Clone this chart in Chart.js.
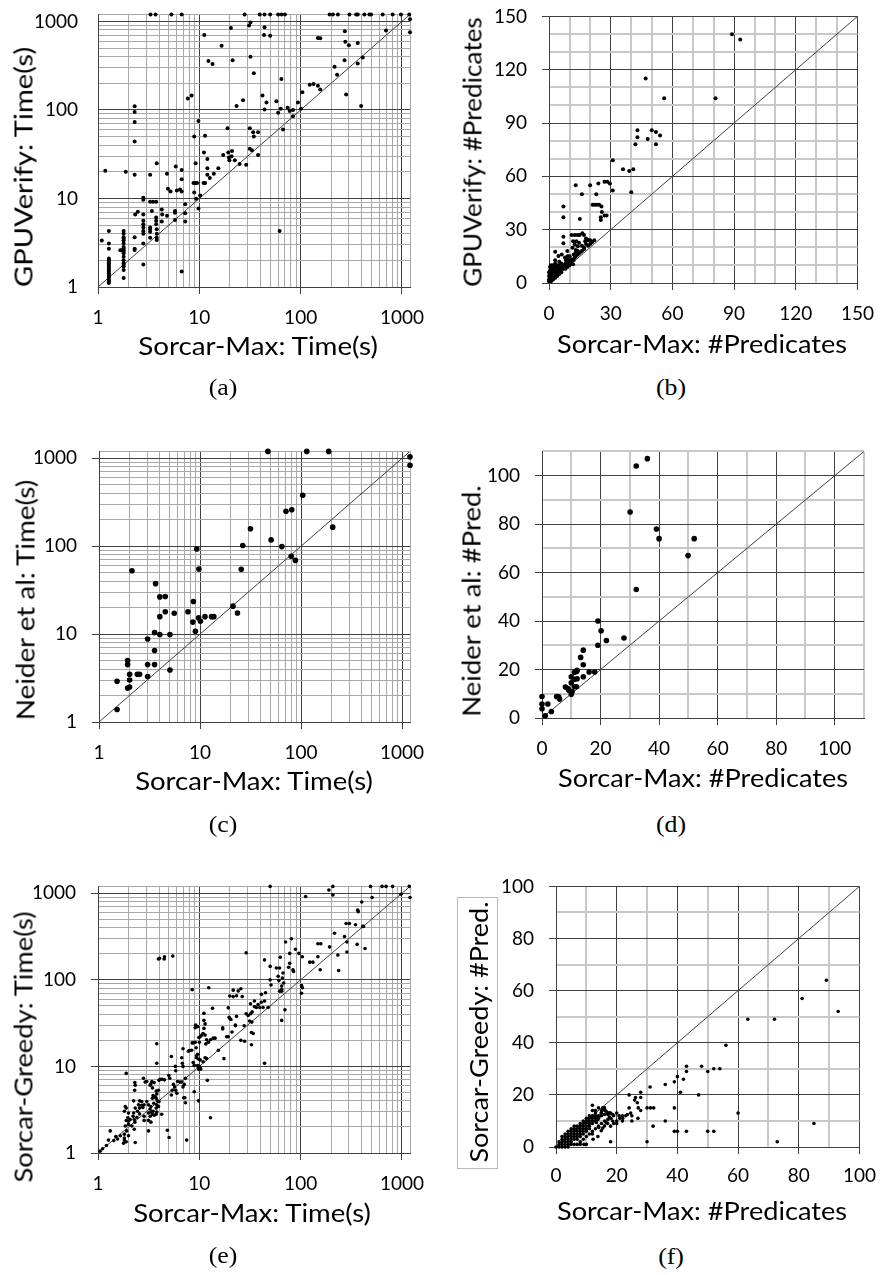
<!DOCTYPE html>
<html lang="en">
<head>
<meta charset="UTF-8">
<title>Sorcar-Max comparison scatter plots</title>
<script src="https://cdn.jsdelivr.net/npm/chart.js"></script>
<style>
  html, body { margin: 0; padding: 0; background: #fff; }
  #figure { position: relative; width: 886px; height: 1275px; overflow: hidden; }
  .plotbox { position: absolute; }
  .title { position: absolute; white-space: nowrap; font-family: Lato, "Open Sans", sans-serif; font-size: 25px; line-height: 1; color: #000; }
  .cap { position: absolute; white-space: nowrap; font-family: "Liberation Serif", serif; font-size: 23px; line-height: 1; color: #000; }
  .titlebox { position: absolute; border: 1px solid #b8b8b8; }
</style>
</head>
<body>
<div id="figure"></div>

<script>
// ---- data ----
const timeTickLabels = [1, 10, 100, 1000];
const timeMin = 1, timeMax = 1200;
const predTicksB = [0, 30, 60, 90, 120, 150];
const predTicksD = [0, 20, 40, 60, 80, 100];
const predTicksF = [0, 20, 40, 60, 80, 100];
const predMaxB = 150, predMaxD = 110, predMaxF = 100;

// (a) GPUVerify time vs Sorcar-Max time
const gpuTime = [
  [3.3,1200],[3.7,1200],[5.3,1200],[6.7,1200],[28,1200],[39.5,1200],[44,1200],[50,1200],[60,1200],[65,1200],[70,1200],
  [193,1200],[208,1200],[233,1200],[303,1200],[353,1200],[366,1200],[426,1200],[477,1200],[496,1200],[645,1200],[809,1200],[977,1200],[1180,1200],
  [1200,1060],[1200,755],[31,900],[32,975],[20.5,840],[44,860],[11.2,700],[43.5,700],[50,690],[16.6,530],[12.3,356],[13.5,330],
  [21.3,365],[32,398],[34.5,260],[64.5,223],[8.4,146],[7.7,135],[23.3,111],[27,129],[42,146],[46,121],[44,101],[57.6,125],[60,93],
  [63.6,103],[74.5,106],[78,97],[84,100],[84,85],[94,121],[101,103],[104,158],[123,193],[134,196],[148,188],[156,170],[148,650],
  [156,645],[216,308],[229,249],[271,365],[281,149],[273,774],[276,590],[299,537],[366,570],[366,335],[395,111],[410,391],[696,787],
  [67,60],[19,62],[31.5,62],[34,56],[34.5,50],[38,56],[31.5,36.5],[33,35],[38,31],[29,24],[25,24.5],[20.8,30],[22.4,27],[19.6,29],
  [19.8,27],[17.2,31],[19.3,33],[21,34.4],[15.4,22],[13.9,19],[12.7,17],[12,18.5],[11.1,33],[11.4,51],[12,28],[12,22],[11,15],[11.4,15],
  [9.8,75],[8.9,50],[9.2,25],[8.75,15],[9.2,15],[9.5,15],[8.9,11.7],[9.3,9.9],[10.2,10.8],[9.8,7.7],[6.7,21],[6.7,16.5],[5.85,23],
  [6.45,12.6],[6.7,12],[6,12.3],[5.2,12],[4.8,19],[4.9,12.9],[3.8,25],[3.27,18.5],[3.27,9.2],[3.5,9.2],[3.75,9.2],[3.4,7.2],[4.26,7.5],
  [4.3,6.6],[4.8,6.4],[5.75,7.2],[5.75,6.9],[7.25,8.6],[7.25,6.8],[7.25,5.5],[5.75,5.7],[4.26,5.5],[3.75,6.1],[3.75,5.6],[3.75,5.1],
  [3.8,4.5],[3.8,4.0],[3.8,3.6],[3.8,3.4],[3.27,4.5],[3.27,4.7],[3.27,4.2],[3.27,3.6],[2.8,10.2],[2.8,9.7],[2.8,6.6],[2.8,5.6],[2.8,5.1],
  [2.8,4.7],[2.8,4.3],[2.8,4.0],[2.8,3.1],[2.8,1.8],[2.33,6.6],[2.47,7.1],[2.3,18.5],[2.3,44],[2.3,73],[2.3,95],[2.3,110],[2.3,3.65],
  [2.3,2.7],[2.3,2.62],[1.88,20],[1.18,20.6],[1.09,3.36],[6.7,1.5],[62,4.3],
  [1.28,4.3],[1.28,3.1],[1.28,2.7],[1.28,2.1],[1.28,2.0],[1.28,1.93],[1.28,1.85],[1.28,1.77],[1.28,1.7],[1.28,1.63],[1.28,1.56],
  [1.28,1.5],[1.28,1.43],[1.28,1.37],[1.28,1.31],[1.28,1.26],[1.28,1.21],[1.28,1.16],[1.28,1.11],
  [1.79,4.3],[1.79,4.0],[1.79,3.65],[1.79,3.5],[1.79,3.36],[1.79,3.1],[1.79,2.83],[1.79,2.7],[1.79,2.6],[1.79,2.5],[1.79,2.4],
  [1.79,2.2],[1.79,2.0],[1.79,1.85],[1.79,1.77],[1.79,1.7],[1.79,1.56],[1.79,1.26],[1.66,2.6],[1.72,2.6]
];

// (b) GPUVerify predicates vs Sorcar-Max predicates
const gpuPred = [
  [89,140],[93,137],[47,115],[56,104],[81,104],[43,86],[43,82],[42,78],[48,81],[50,86],[52,85],[54,83],[52,78],[31,69],[36,64],
  [39,63],[41,64],[40,51],[31,52],[29.6,56],[27,57],[28.4,57],[24,56],[23,50],[20,55],[16,50],[13,55],[15,36],[7,43],[7,37],
  [21.2,44],[22.2,44],[23.3,44],[24.4,44],[25.5,43],[25.7,40],[25.2,37],[25.2,35.4],[27,38],[28,38],[11,27],[12.5,27],[13.8,27],
  [14.9,27],[16.2,28],[17,27],[18,25],[18.9,24.4],[17.6,23.5],[11.7,23.5],[13.3,23.5],[14.6,22.6],[12.5,21.6],[7,26],[7,22.4],
  [8.9,18],[11.4,19.8],[13,18.5],[14,20.7],[3,12.8],[4.6,15.2],[6.2,16],[7.8,14.3],[9.3,13.4],[10.9,13.4],[12.5,14.3],[8.2,12.8],
  [10.1,11.5],[11.7,10.6],[3,17.6],
  [0.5,1],[0.5,3],[0.5,5],[0.5,7],[0.5,9],[1,2],[1,4],[1,6],[1,8],[1,10],[1.5,3],[1.5,5],[2,3],[2,4],[2,6],[2,8],[2.5,4],[2.5,7],
  [3,4],[3,5],[3,9],[3,11],[3.5,5],[3.5,7],[4,5],[4,6],[4,8],[4.5,6],[4.5,10],[5,7],[5,8],[5,12],[5.5,7],[6,8],[6,9],[6.5,9],[7,8],
  [7,10],[7.5,9],[8,10],[8,11],[9,10],[9,12],[10,12],[11,13],[12,13],[13,15],[14,16],[15,17],[16,18],[17,19],[12,16],[14,18],[10,15],
  [16,21],[18,22],[20,24],[19,21],[21,23],[22,24],[17,20],[0,1],[0,2],[0,4],[0,6],[1,1],[2,2],[3,3],[4,4],[6,6],[5,5],[8,8],[9,9],
  [10,10],[11,11],[6,11],[4,9],[2,10],[1,7],[8,14],[9,15],[13,17],[19,24],[20,22]
];

// (c) Neider et al. time vs Sorcar-Max time
const neiderTime = [
  [47,1200],[114,1200],[188,1200],[1200,1040],[1200,836],[104,380],[81,260],[71,250],[206,165],[31.6,158],[26.5,102],[50.6,118],
  [64.6,99],[80,77],[88,69],[25.6,54.6],[9.3,93],[9.75,55],[2.12,52.7],[3.63,37.5],[4.0,26.5],[4.53,26.8],[8.6,23.5],[21.2,20.8],
  [23.5,17.4],[4.53,18],[5.56,17.3],[7.6,18],[4.0,15.8],[8.5,13.7],[9.7,15.3],[10.1,14],[11.2,15.8],[13,15.8],[13.7,15.8],[9,10.8],
  [3.55,10.4],[4.0,9.9],[5.04,9.9],[3.03,8.8],[3.55,6.5],[3.03,4.5],[3.55,4.5],[3.03,3.3],[5.04,3.9],[1.92,5.0],[1.92,4.5],[2.01,3.5],
  [2.4,3.5],[2.52,3.5],[2.01,3.0],[1.51,2.9],[1.92,2.43],[2.01,2.5],[1.51,1.39]
];

// (d) Neider et al. predicates vs Sorcar-Max predicates
const neiderPred = [
  [36,107],[32.2,104],[30.1,85],[39.1,78],[40,74],[52,74],[49.9,67],[32.2,53],[19.1,40],[20.2,36],[22,32],[28,33],[19.1,30],
  [14.1,28],[13.2,25],[14.1,22],[12,19.7],[11.8,19.2],[11.1,18.9],[16.1,19],[18,19],[14.1,17],[10,17],[11.1,16],[12,16.2],[10,14.5],
  [8,12.8],[8.9,12.1],[9.2,11.4],[10.3,10.9],[10,9.8],[11.1,12.9],[11.8,12.9],[5,8.9],[5.7,8.7],[6,7.8],[0,8.9],[0,5.8],[0,3.8],
  [2,5.8],[1.1,0.9],[3.2,2.7]
];

// (e) Sorcar-Greedy time vs Sorcar-Max time
const greedyTime = [
  [50,1200],[208,1200],[489,1200],[636,1200],[696,1200],[809,1200],[1180,1200],[1200,894],[977,975],[190,1090],[208,957],[112,917],
  [507,894],[401,792],[366,638],[370,611],[281,447],[303,447],[348,432],[410,414],[418,414],[216,345],[271,316],[286,273],[193,240],
  [361,257],[432,230],[233,193],[286,210],[237,128],[148,261],[158,261],[148,185],[123,160],[132,160],[156,131],[96,202],[104,185],
  [81,298],[71,273],[89,226],[78,202],[63,182],[78,155],[84,131],[85,125],[76,140],[50,143],[44,170],[29,205],[57.6,137],[62,137],
  [67,120],[66,105],[60,110],[61,98],[68,92],[65,85],[65,78],[62,74],[65,74],[50,100],[51,87],[70,45],[65,34],[102,86],[104,81],
  [102,70],[44,57],[41,68],[45,71],[35,57],[32,53],[35,49],[47.7,48],[42.6,48],[39.5,48],[36.6,48],[38,52],[41,55],[32,40.6],
  [29,40.6],[30.3,38.7],[33.2,42.6],[33,32.5],[31.3,33.5],[27.7,29.5],[32.7,24.6],[34,24],[32.7,17.8],[25.7,20],[28,19.5],[44,10.9],
  [25.7,79],[24.2,74.5],[21.6,76],[23.3,65.5],[21.6,64],[26.5,64],[20,65],[19.3,47.5],[19.7,37],[20,35.7],[20.5,34.8],[23.3,37.8],
  [22.7,30],[21,25],[22.7,29.5],[18.6,22],[19.3,22],[17,28],[17,27],[17.5,12.3],[15.4,15.4],[13.5,47],[12.4,81],[8.5,77],[14.3,21.2],
  [13.7,21.2],[12.9,20.3],[11.8,20.3],[12.3,19],[11.6,18.2],[11.1,41],[11.1,34],[11.4,31],[11.1,27.5],[10.2,22],[10.9,24],[11.4,23],
  [10.6,23],[9.6,28.8],[9.2,30],[9.1,28],[10,19],[9.9,21.6],[9.3,16.4],[9.1,19],[8.7,18.7],[8.5,18.7],[9.4,13.2],[9.4,12.6],[9.6,13.8],
  [9.9,12.1],[10.2,11.9],[9.6,10.2],[9.8,9.7],[9.9,9.3],[10.2,9.5],[10.3,9.3],[10,10],[8.9,10.3],[8.7,11.1],[10.9,11.3],[11.4,12.6],
  [11.8,12.3],[12,6.9],[12.9,2.55],[9.8,4.0],[8.9,5.1],[8,15.3],[8.4,15.4],[7.8,15],[6.9,16],[6.7,12.6],[6.8,10.9],[6.9,10],[5.8,10],
  [5.85,8.9],[6.45,6.6],[6.7,6.6],[6.1,6.7],[5.7,5.8],[5.4,5.3],[7.3,7.3],[7.2,4.35],[7.3,3.8],[7.5,1.41],[5.3,13],[5.1,7.3],[5,7.85],
  [4,6.9],[4.3,7.1],[4.1,7.1],[3.8,18.3],[3.8,10.9],[3.58,6.5],[3.45,5.65],[3.27,6.05],[3.03,6.7],[2.92,6.6],[2.81,7.3],[3.4,6.7],
  [3.33,6.3],[3.75,5.2],[3.8,4.8],[3.66,4.47],[3.95,5.3],[3.75,4.3],[3.85,4.0],[3.5,4.6],[3.45,4.3],[3.55,3.76],[3.8,3.6],[3.75,3.3],
  [3.95,3.45],[4.0,3.93],[3.33,3.45],[3.15,3.6],[3.03,3.93],[2.85,3.6],[2.77,3.35],[2.7,3.93],[2.7,3.55],[3.27,3.22],[3.33,2.98],
  [3.15,2.9],[3.27,2.66],[3.45,2.78],[3.6,2.73],[3.5,3.03],[3.8,2.98],[3.75,2.8],[4.25,2.8],[3.15,2.38],[3.33,2.27],[3.15,1.8],
  [2.85,2.38],[2.85,2.66],[2.57,4.0],[2.51,3.6],[2.57,3.3],[2.45,3.03],[2.57,2.83],[2.42,2.59],[2.31,6.5],[2.33,6.05],[2.3,5.3],
  [2.25,4.0],[2.33,3.3],[2.25,2.9],[2.22,2.66],[2.28,2.44],[2.31,2.27],[2.16,2.05],[2.28,1.88],[2.33,1.32],[1.9,8.3],[1.86,3.45],
  [1.9,3.3],[1.82,3.03],[2.0,2.9],[1.97,2.55],[2.08,2.44],[2.0,2.33],[1.9,2.37],[2.0,2.14],[1.86,2.05],[1.92,1.8],[1.82,1.65],
  [2.0,1.58],[1.82,1.49],[1.79,1.3],[1.9,1.35],[1.82,1.41],[1.32,1.8],[1.5,1.55],[1.43,1.39],[1.56,1.45],[1.21,1.22],[1.11,1.12],
  [1.05,1.05],[1.66,1.58],[1.27,1.41],[4.53,185],[4.04,177],[3.95,174],[4.5,174],[5.47,188],[4.53,7],[4.84,1.83],[5.03,1.51],
  [5.85,5.3],[5.55,6.2],[6.0,4.9],[6.9,5.8],[7.1,6.2],[7.0,4.35],[5.3,4.67]
];

// (f) Sorcar-Greedy predicates vs Sorcar-Max predicates
const greedyPred = [
  [89.1,64],[81.1,57],[93,52],[63.2,49],[72,49],[56,39],[43,31],[43,29],[48,31],[50,29],[52,30],[54,30],[40,27],[42,26],[39,25],
  [36,24],[41,21],[47,20],[31,23],[27.9,21],[27.9,19],[26.2,19],[25.9,18],[26.8,17],[27.9,14],[27.1,15],[24.1,20],[24.1,15],[24.6,13],
  [27,11],[30,15],[31.1,15],[32.2,15],[39,15],[60,13],[36,10],[32,8],[39,6],[40,6],[43,6],[50,6],[52,6],[85,9],[72.9,2],[30,2],[18,2],
  [20.8,12],[21.9,12],[23,12],[23.5,12.5],[25,12],[25,10],[21.9,10],[20,9],[18.7,10],[18.1,11],[18.7,12.5],[17.6,11.5],[17.1,10.6],
  [16.5,9.4],[16,8.1],[15.4,7.25],[14.9,6.25],[12,16],[15.4,15],[16.5,13.75],[17.6,13.1],[17.1,12.5],[16,12.5],[14.9,13.1],[14.4,11.9],
  [13.8,10.6],[13.3,9.4],[14.1,7.5],[13.8,4],[12,5],[12.2,3],[10,1],[9.2,1],
  [0,0],[1,0],[1,1],[1,2],[2,0],[2,1],[2,2],[2,3],[3,1],[3,2],[3,3],[3,4],[4,1],[4,2],[4,3],[4,4],[4,5],[5,2],[5,3],[5,4],[5,5],[5,6],
  [6,3],[6,4],[6,5],[6,6],[6,7],[7,3],[7,4],[7,5],[7,6],[7,7],[8,4],[8,5],[8,6],[8,7],[8,8],[9,5],[9,6],[9,7],[9,8],[9,9],[10,6],[10,7],
  [10,8],[10,9],[10,10],[11,7],[11,8],[11,9],[11,10],[11,11],[12,9],[12,10],[12,11],[12,12],[13,10],[13,11],[13,12],[13,13],[14,12],
  [14,11],[15,12],[15,13],[15,14],[16,14],[16,15],[17,13],[18,13],[19,12],[20,13],[6,1],[7,1],[8,1],[5,1],[3,0],[4,0],[2,4],[3,5],
  [4,6],[5,7],[6,8],[7,8],[8,9],[9,10],[10,11],[11,12],[12,14],[13,14],[14,15],[8,2],[9,3],[10,4],[11,5],[12,6],[13,7],[14,8],[15,9],
  [16,10],[17,9],[18,8],[19,9],[20,10],[21,11],[22,11]
];

// ---- layout (page pixels) ----
const MAJOR = '#404040';
const panels = [
  { key: 'a', pts: gpuTime, log: true, plot: [98, 10, 410, 287], r: 2, yTitle: 'GPUVerify: Time(s)', yt: [23, 167, 240],
    xTitle: 'Sorcar-Max: Time(s)', xt: [258, 345, 240], cap: [223, 387], yPad: 13, xPad: 12, noYTicks: true },
  { key: 'b', pts: gpuPred, log: false, max: predMaxB, labels: predTicksB, plot: [549, 10, 864, 283], r: 2,
    yTitle: 'GPUVerify: #Predicates', yt: [472, 152, 270], xTitle: 'Sorcar-Max: #Predicates', xt: [702, 343, 290], cap: [671, 387], yPad: 15, xPad: 12 },
  { key: 'c', pts: neiderTime, log: true, plot: [99, 445, 410, 722], r: 2.8, yTitle: 'Neider et al: Time(s)', yt: [25, 600, 240],
    xTitle: 'Sorcar-Max: Time(s)', xt: [254, 780, 238], cap: [223, 824], yPad: 15, xPad: 12 },
  { key: 'd', pts: neiderPred, log: false, max: predMaxD, labels: predTicksD, plot: [542, 445, 864, 718], r: 2.8,
    yTitle: 'Neider et al: #Pred.', yt: [471, 601, 232], xTitle: 'Sorcar-Max: #Predicates', xt: [703, 777, 290], cap: [671, 824], yPad: 15, xPad: 12 },
  { key: 'e', pts: greedyTime, log: true, plot: [98, 880, 410, 1153], r: 1.8, yTitle: 'Sorcar-Greedy: Time(s)', yt: [23, 1047, 271],
    xTitle: 'Sorcar-Max: Time(s)', xt: [252, 1212, 238], cap: [223, 1255], yPad: 15, xPad: 12 },
  { key: 'f', pts: greedyPred, log: false, max: predMaxF, labels: predTicksF, plot: [556, 880, 864, 1147], r: 1.8,
    yTitle: 'Sorcar-Greedy: #Pred.', yt: [478, 1032, 261], xTitle: 'Sorcar-Max: #Predicates', xt: [702, 1210, 290], cap: [671, 1256],
    yPad: 15, xPad: 10, box: [457, 897, 496, 1167] }
];

// log gridlines: 1..9, 10..90, 100..900, 1000, plus the axis end
const logGrid = [];
timeTickLabels.slice(0, 3).forEach(d => { for (let m = 1; m < 10; m++) logGrid.push(d * m); });
logGrid.push(1000, timeMax);

const fig = document.getElementById('figure');

function makeScale(p, axis) {
  const majors = p.log ? timeTickLabels : p.labels;
  const isMajor = v => majors.includes(v);
  const s = {
    type: p.log ? 'logarithmic' : 'linear',
    min: p.log ? timeMin : 0,
    max: p.log ? timeMax : p.max,
    afterFit: sc => { if (axis === 'x') sc.height = p.xH; else sc.width = p.yW; },
    ticks: {
      autoSkip: false, maxRotation: 0, minRotation: 0,
      padding: axis === 'x' ? p.xPad : p.yPad,
      color: '#000',
      font: { family: 'Lato', size: 19 },
      callback: v => isMajor(v) ? String(v) : ''
    },
    grid: {
      color: c => isMajor(c.tick.value) ? MAJOR : (p.log ? '#a8a8a8' : '#c8c8c8'),
      lineWidth: c => isMajor(c.tick.value) ? 1 : (p.log ? 1 : 2),
      tickLength: 7,
      tickWidth: 1,
      tickColor: c => (isMajor(c.tick.value) && !(axis === 'y' && p.noYTicks)) ? MAJOR : 'rgba(0,0,0,0)'
    },
    border: { display: true, color: MAJOR, width: 1 }
  };
  if (p.log) s.afterBuildTicks = sc => { sc.ticks = logGrid.map(v => ({ value: v })); };
  else s.ticks.stepSize = 10;
  return s;
}

function fitText(el, len) {
  return len / el.offsetWidth;
}

panels.forEach(p => {
  const [pl, pt, pr, pb] = p.plot;
  const x0 = pl - 90, y0 = pt - 20;
  const x1 = Math.min(886, pr + 24), y1 = pb + 50;
  p.yW = pl - x0;
  p.xH = y1 - pb;

  const holder = document.createElement('div');
  holder.className = 'plotbox';
  holder.style.left = x0 + 'px';
  holder.style.top = y0 + 'px';
  const cv = document.createElement('canvas');
  cv.width = x1 - x0;
  cv.height = y1 - y0;
  holder.appendChild(cv);
  fig.appendChild(holder);

  const lo = p.log ? timeMin : 0, hi = p.log ? timeMax : p.max;
  new Chart(cv, {
    type: 'scatter',
    data: {
      datasets: [
        { data: p.pts.map(([x, y]) => ({ x, y })), backgroundColor: '#000', borderWidth: 0,
          pointRadius: p.r, pointHoverRadius: p.r, clip: 8, order: 1 },
        { data: [{ x: lo, y: lo }, { x: hi, y: hi }], showLine: true, borderColor: MAJOR, borderWidth: 1,
          pointRadius: 0, fill: false, order: 2 }
      ]
    },
    options: {
      responsive: false,
      animation: false,
      events: [],
      layout: { padding: { left: 0, top: pt - y0, right: x1 - pr, bottom: 0 } },
      plugins: { legend: { display: false }, tooltip: { enabled: false } },
      scales: { x: makeScale(p, 'x'), y: makeScale(p, 'y') }
    }
  });

  if (p.box) {
    const b = document.createElement('div');
    b.className = 'titlebox';
    b.style.left = p.box[0] + 'px';
    b.style.top = p.box[1] + 'px';
    b.style.width = (p.box[2] - p.box[0]) + 'px';
    b.style.height = (p.box[3] - p.box[1]) + 'px';
    fig.appendChild(b);
  }

  const addTitle = (text, spec, rotate) => {
    const el = document.createElement('div');
    el.className = 'title';
    el.textContent = text;
    el.style.left = spec[0] + 'px';
    el.style.top = spec[1] + 'px';
    fig.appendChild(el);
    const k = fitText(el, spec[2]);
    el.style.transform = 'translate(-50%,-50%)' + (rotate ? ' rotate(-90deg)' : '') + ' scaleX(' + k.toFixed(3) + ')';
  };
  addTitle(p.yTitle, p.yt, true);
  addTitle(p.xTitle, p.xt, false);

  const cap = document.createElement('div');
  cap.className = 'cap';
  cap.textContent = '(' + p.key + ')';
  cap.style.left = p.cap[0] + 'px';
  cap.style.top = p.cap[1] + 'px';
  cap.style.transform = 'translate(-50%,-50%) scaleX(1.12)';
  fig.appendChild(cap);
});
</script>
</body>
</html>
